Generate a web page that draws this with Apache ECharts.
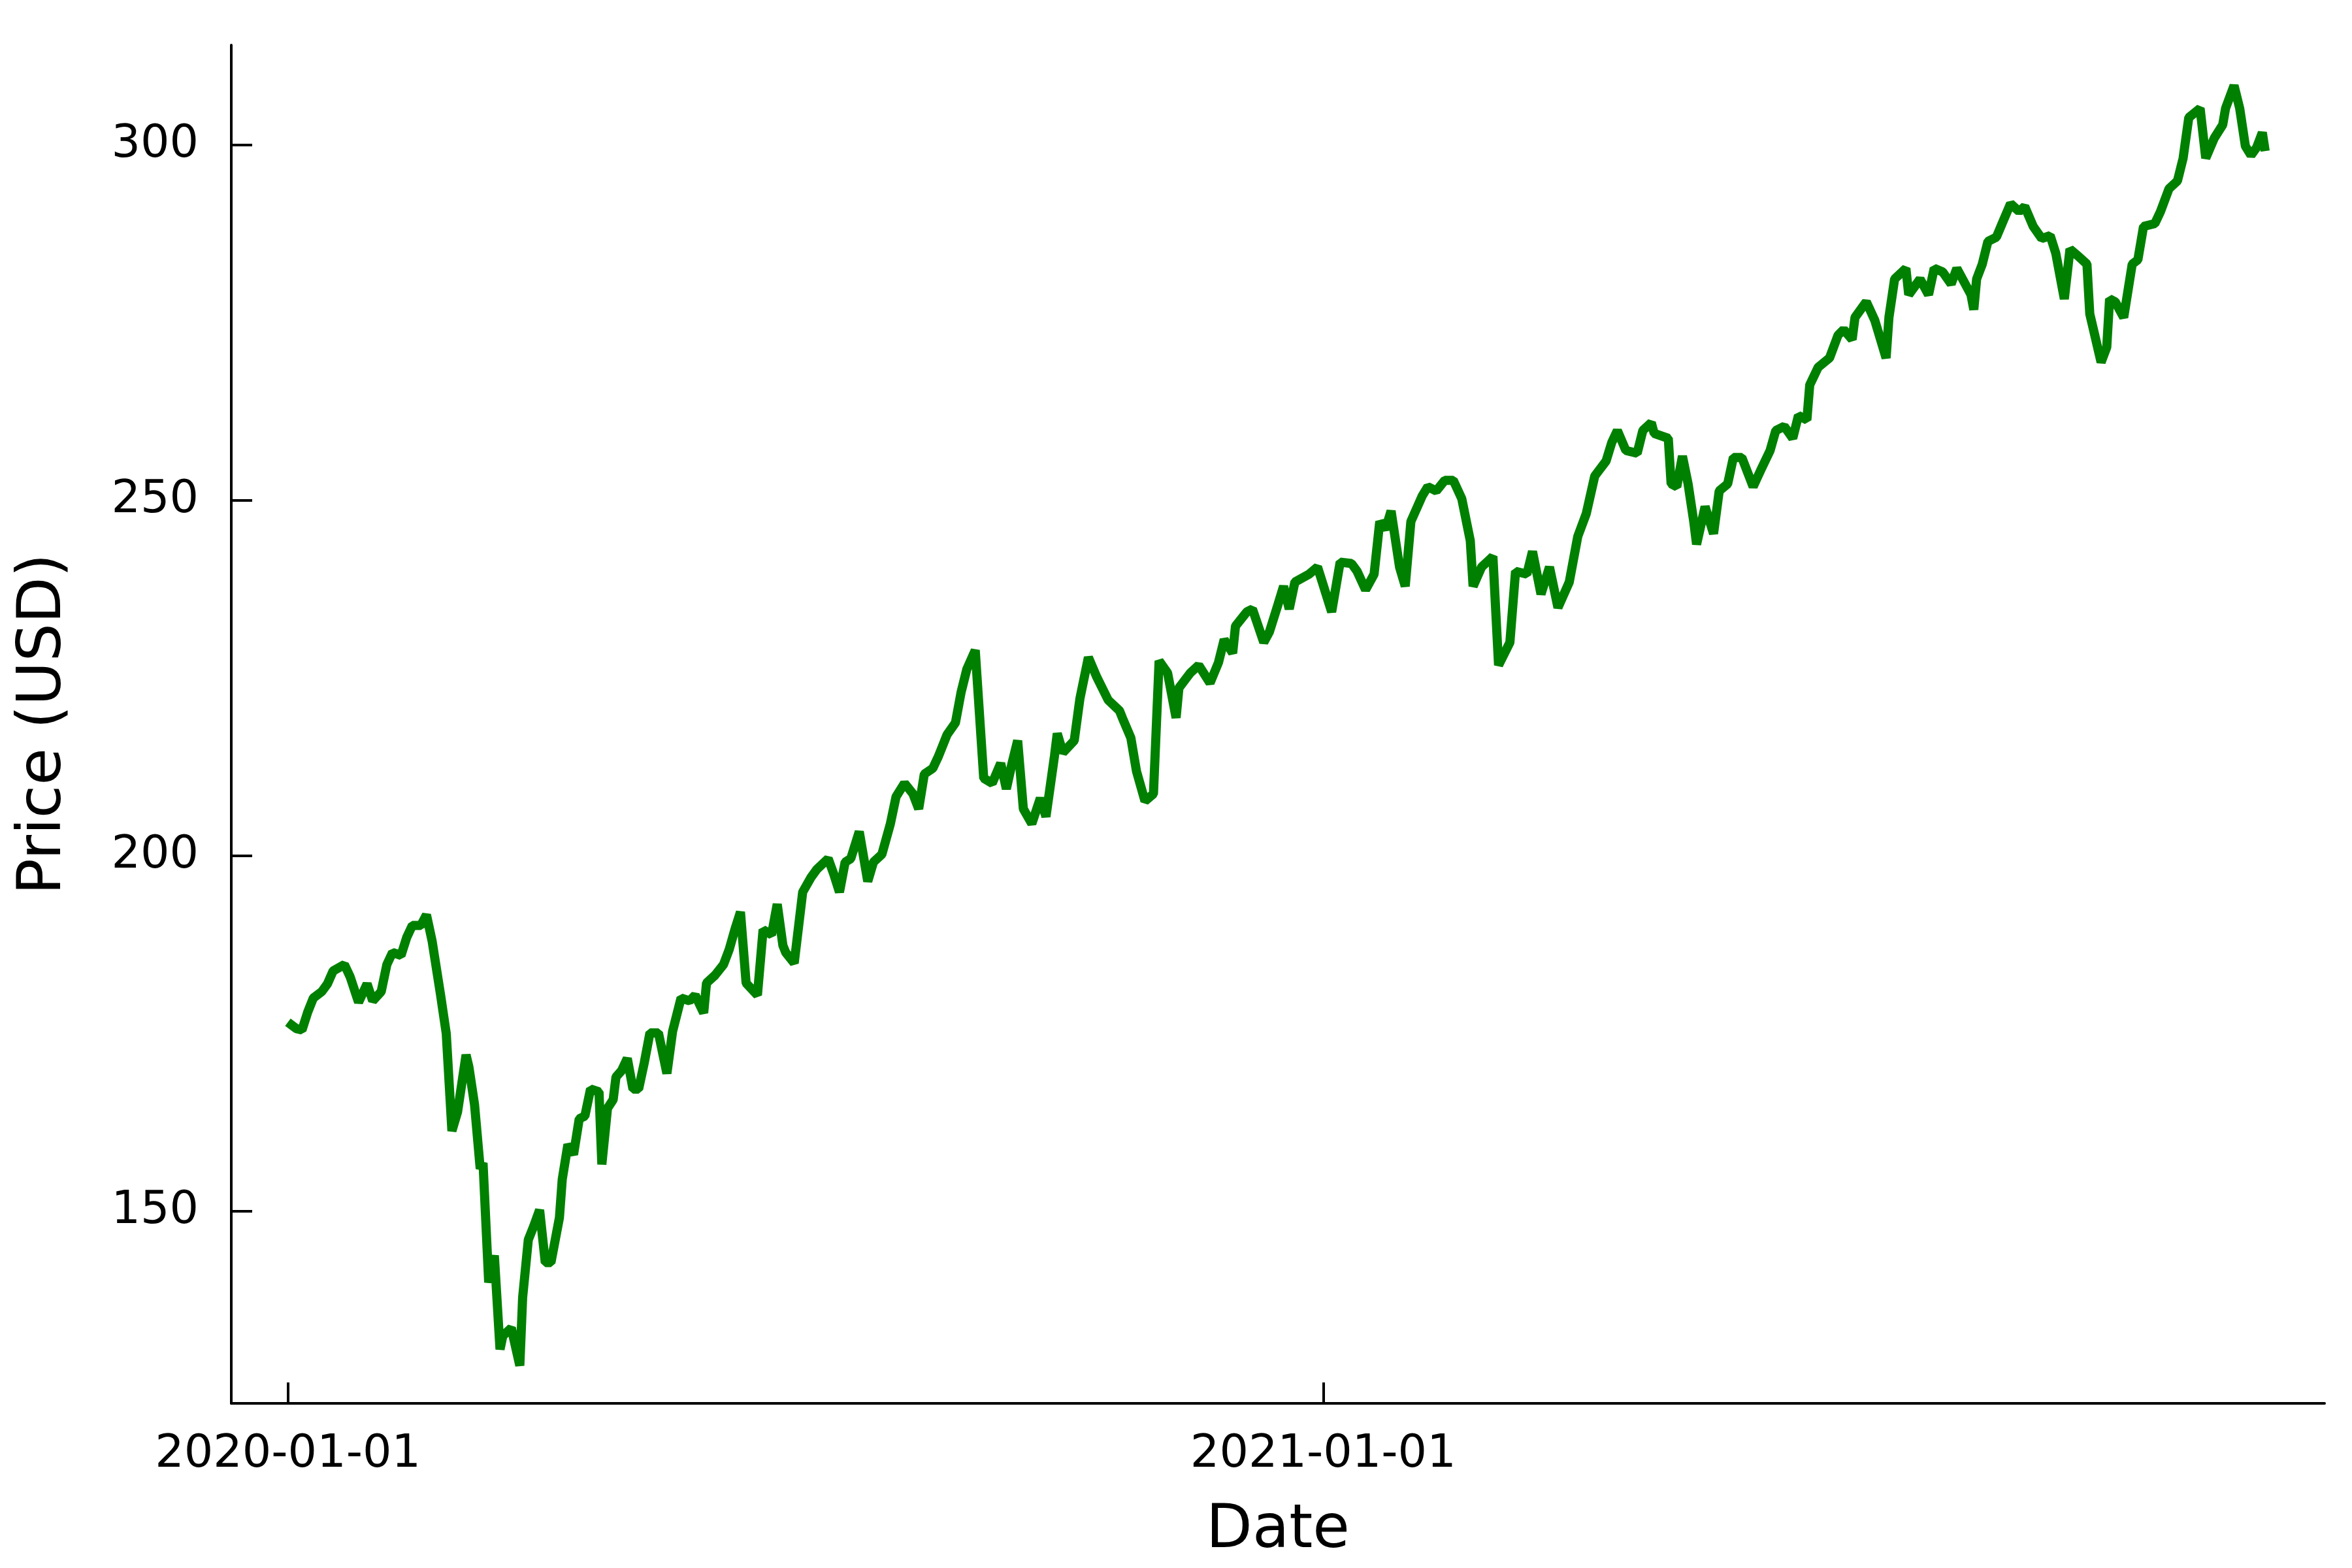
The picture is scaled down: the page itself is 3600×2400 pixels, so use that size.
<!DOCTYPE html>
<html><head><meta charset="utf-8">
<script src="https://cdn.jsdelivr.net/npm/echarts@6/dist/echarts.min.js"></script>
<style>html,body{margin:0;padding:0;background:#fff}#c{width:3600px;height:2400px}</style>
</head><body><div id="c"></div>
<script>
// days since 2020-01-01
const days = [0,3,5,7,9,12,14,16,20,22,25,28,30,33,35,37,40,42,44,47,49,51,54,56,58,60,63,64,66,68,69,71,73,75,76,79,82,83,85,87,89,91,93,96,97,99,101,103,105,107,110,111,113,115,116,118,120,122,124,126,128,131,134,136,139,142,144,147,148,151,154,156,158,160,162,166,168,171,173,175,176,179,182,185,187,191,193,195,197,199,202,205,207,210,213,215,218,221,223,225,228,230,233,236,238,240,243,246,249,252,254,256,258,260,263,266,268,271,272,274,278,280,283,286,290,294,295,298,300,303,306,308,311,314,315,319,322,326,329,331,334,335,339,341,345,347,350,352,354,356,361,364,369,372,376,378,381,384,386,388,390,393,395,397,401,403,406,409,412,415,418,419,422,425,426,428,432,434,438,440,443,446,449,453,456,459,462,466,468,470,473,477,479,482,483,488,489,491,493,495,497,498,501,504,506,509,511,514,518,521,524,526,529,532,534,537,538,541,545,548,550,553,554,558,561,565,566,568,572,573,577,580,582,585,588,590,595,596,597,599,601,604,606,609,612,614,617,620,623,625,628,630,633,636,637,641,643,644,646,649,652,654,656,660,662,665,668,670,672,676,678,681,684,685,688,690,692,694,696,698,699];
const prices = [176.6,175.7,175.5,178,180,180.9,182,183.8,184.7,183,179.4,182,179.6,180.9,184.7,186.4,186,188.5,190.2,190.2,191.7,188,180.4,175,161.3,164,172,170.3,165,156,156.8,140,143.8,130.6,132.5,133.6,128.3,137.9,146,148,150.2,142.8,142.8,149.1,154.5,159.4,158,163,163.4,167.2,166.8,156.6,164.5,165.7,168.9,169.8,171.5,167.2,167.2,170.9,175.1,175.1,169.4,175.3,180,179.6,180.4,177.9,182.1,183.2,184.7,186.8,189.6,192.1,182.1,180.4,189.6,188.9,193.2,187.4,186.4,184.9,194.9,197,198.1,199.6,197.4,194.9,199.1,199.6,203.4,196.4,199.1,200.2,204.5,208.3,210.2,208.7,206.6,211.5,212.3,214,217,218.7,223,226.2,228.9,210.9,210.2,213,209.4,213,216.2,206.6,204.5,208.1,205.5,214,217.2,214.5,216.2,222.1,227.9,225.1,221.9,220.4,219.4,216.6,211.9,207.7,208.7,227.4,225.7,219.4,223.6,225.7,226.8,224.3,227.2,230.4,228.5,232.3,234.3,234.7,230,231.5,235.3,237.9,234.7,238.5,239.6,240.6,234.3,241.3,241.1,240,237.4,239.6,247,245.9,248.5,240.6,237.9,247,250.6,251.9,251.3,252.8,252.8,250.2,244.3,237.9,240.6,241.7,242.1,226.8,230,240,239.6,242.8,236.8,240.6,234.9,238.5,244.9,248.1,253.4,255.5,258.1,259.8,257,256.6,259.8,260.9,259.4,258.7,252.3,251.9,256.2,252.3,247,243.8,249.1,245.3,251.3,252.3,256,256,251.9,254.5,257,259.8,260.4,258.7,261.9,261.3,266.2,268.7,270,273.2,274,272.6,275.7,277.9,275.3,270,275.7,281.1,282.6,278.9,281.1,278.9,282.6,282.1,280.4,282.6,278.9,276.8,281.1,283.2,286.4,287,288.9,291.7,290.6,291.3,288.5,286.8,287.2,284.7,278.3,285.3,284.3,283.2,276.2,269.4,271.5,278.3,277.9,275.7,283.2,283.8,288.5,288.9,290.6,293.8,294.9,298.1,303.8,305.1,298.1,300.9,302.8,305.1,308.3,305.1,299.8,298.5,299.6,301.7,299.1];
const xTicks = [0, 366];
const xTickLabels = ['2020-01-01', '2021-01-01'];
const yTicks = [150, 200, 250, 300];

const data = days.map((d, i) => [d, prices[i]]);
const font = 'DejaVu Sans';
const chart = echarts.init(document.getElementById('c'));
chart.setOption({
  animation: false,
  backgroundColor: '#fff',
  grid: {left: 354, right: 42, top: 69, bottom: 252},
  xAxis: {
    type: 'value', min: -20, max: 720,
    name: 'Date', nameLocation: 'middle', nameGap: 150,
    nameTextStyle: {fontFamily: font, fontSize: 92, color: '#000'},
    axisLine: {onZero: false, lineStyle: {color: '#000', width: 4}},
    axisTick: {inside: true, length: 32, lineStyle: {color: '#000', width: 4}, customValues: xTicks},
    axisLabel: {customValues: xTicks, margin: 44, fontFamily: font, fontSize: 70, color: '#000',
      formatter: v => xTickLabels[xTicks.indexOf(v)] || ''},
    splitLine: {show: false}
  },
  yAxis: {
    type: 'value', min: 123, max: 314,
    name: 'Price (USD)', nameLocation: 'middle', nameGap: 240,
    nameTextStyle: {fontFamily: font, fontSize: 92, color: '#000'},
    axisLine: {show: true, onZero: false, lineStyle: {color: '#000', width: 4}},
    axisTick: {show: true, inside: true, length: 32, lineStyle: {color: '#000', width: 4}, customValues: yTicks},
    axisLabel: {customValues: yTicks, margin: 50, fontFamily: font, fontSize: 70, color: '#000'},
    splitLine: {show: false}
  },
  series: [{
    type: 'line', data: data, showSymbol: false,
    lineStyle: {color: '#008000', width: 14}, itemStyle: {color: '#008000'}
  }]
});
</script></body></html>
